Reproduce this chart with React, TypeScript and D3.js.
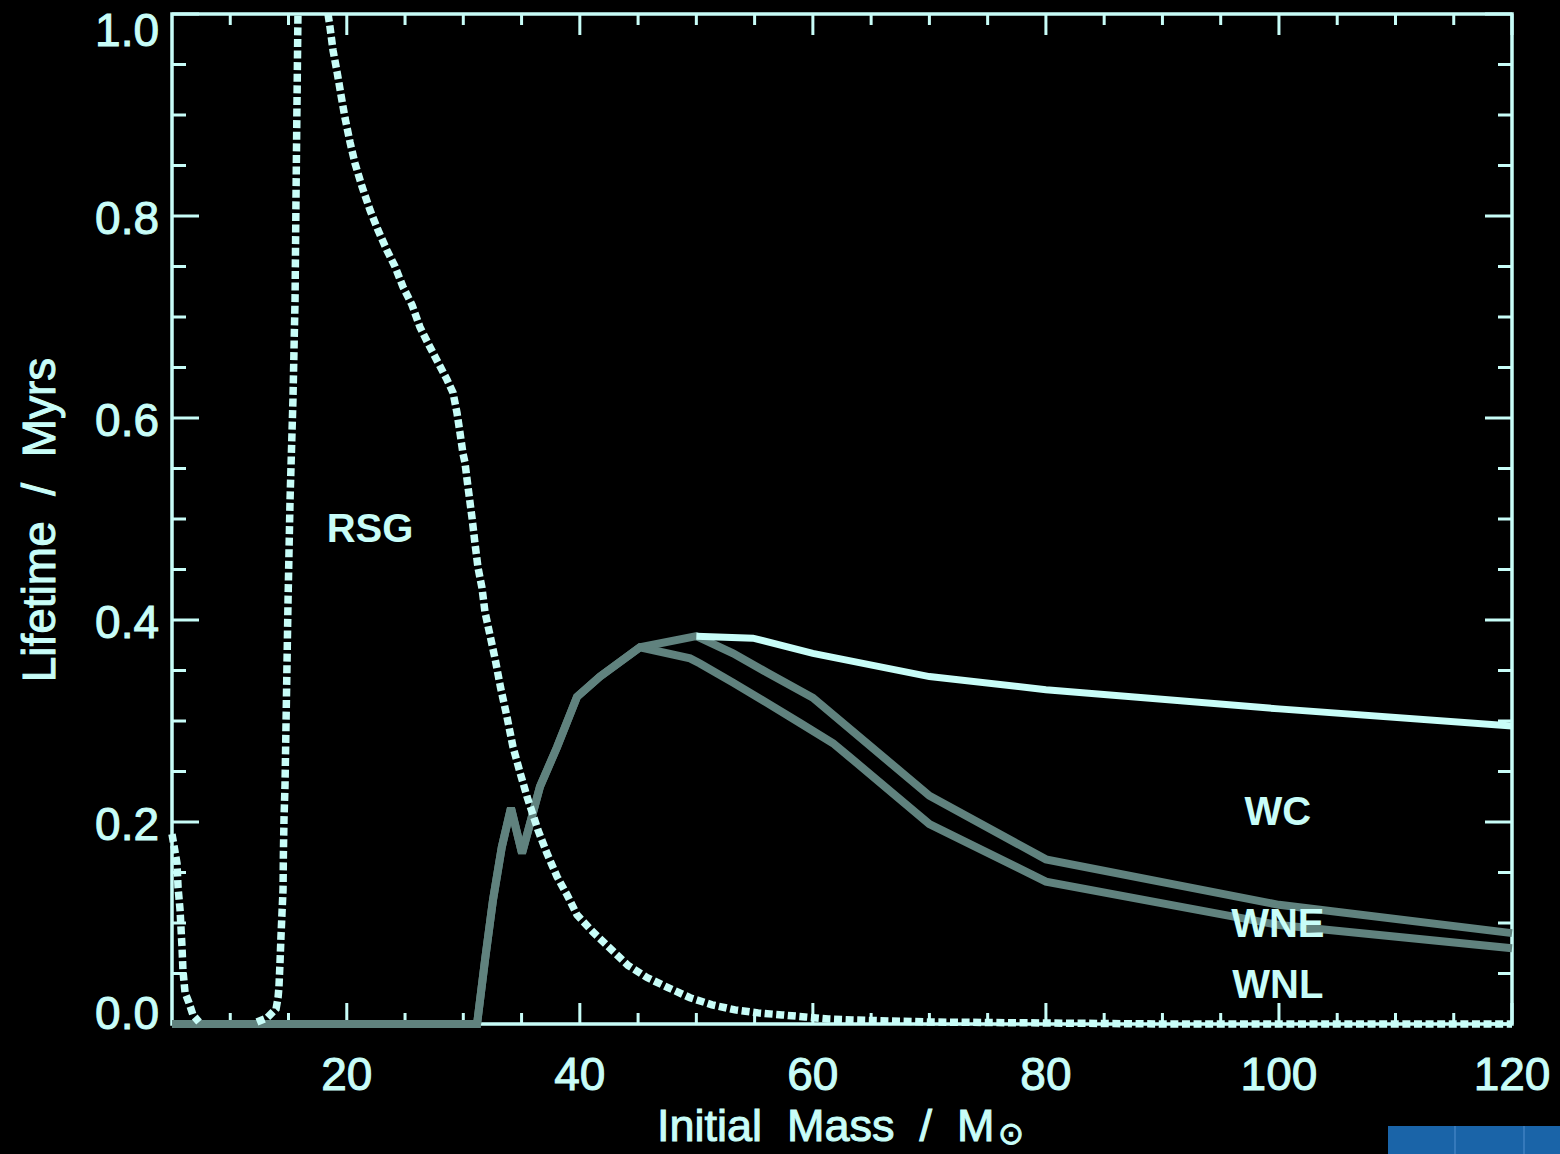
import React from 'react';
import * as d3 from 'd3';

const W = 1560;
const H = 1154;

// axis ticks
const xMajor = [20, 40, 60, 80, 100, 120];
const xMinor = [10, 15, 25, 30, 35, 45, 50, 55, 65, 70, 75, 85, 90, 95, 105, 110, 115];
const yMajor = [0, 0.2, 0.4, 0.6, 0.8, 1.0];
const yMajorLabels = ['0.0', '0.2', '0.4', '0.6', '0.8', '1.0'];
const yMinor = [0.05, 0.1, 0.15, 0.25, 0.3, 0.35, 0.45, 0.5, 0.55, 0.65, 0.7, 0.75, 0.85, 0.9, 0.95];

// RSG lifetime (dotted); null marks a gap in the drawn curve
const rsgMass = [
  5.0, 5.09, 5.43, 5.52, 5.69, 5.86, 5.94, 6.12, 6.46, 6.8, 7.32,
  null,
  12.29, 13.15, 13.93, 14.1, 14.18, 14.27, 14.35, 14.44, 14.53, 14.56, 14.61, 14.7, 14.96, 15.13, 15.38, 15.56, 15.64, 15.73, 15.81,
  null,
  18.39, 18.56, 18.82, 19.16, 19.5, 19.85, 20.28, 20.71, 21.31, 21.99, 22.68, 23.45, 24.14, 24.82, 25.6, 26.28, 26.97, 27.74, 28.6, 29.12, 29.46, 29.72, 29.97, 30.14, 30.4, 30.75, 31.0, 31.26, 31.6, 31.86, 32.29, 32.72, 33.2, 33.75, 34.27, 34.87, 35.47, 36.41, 37.18, 38.04, 38.9, 39.76, 41.13, 42.59, 44.14, 45.77, 47.57, 49.46, 51.35, 53.32, 55.3, 57.36, 59.33, 61.3, 63.36, 70, 80, 90, 120,
];
const rsgLife = [
  0.188, 0.182, 0.159, 0.135, 0.113, 0.076, 0.053, 0.031, 0.021, 0.009, 0.002,
  null,
  0.002, 0.006, 0.015, 0.026, 0.037, 0.061, 0.086, 0.11, 0.133, 0.169, 0.202, 0.237, 0.42, 0.519, 0.618, 0.717, 0.816, 0.915, 1.0,
  null,
  1.0, 0.987, 0.964, 0.943, 0.92, 0.897, 0.873, 0.852, 0.829, 0.806, 0.786, 0.766, 0.75, 0.73, 0.712, 0.69, 0.674, 0.657, 0.638, 0.625, 0.605, 0.585, 0.565, 0.556, 0.532, 0.501, 0.476, 0.452, 0.432, 0.408, 0.385, 0.362, 0.333, 0.304, 0.274, 0.249, 0.225, 0.192, 0.169, 0.146, 0.128, 0.108, 0.091, 0.075, 0.058, 0.046, 0.036, 0.026, 0.019, 0.014, 0.011, 0.009, 0.007, 0.005, 0.004, 0.002, 0.001, 0.0, 0.0,
];

// WNE (upper grey)
const wneMass = [5, 31.18, 31.86, 32.55, 33.3, 34.09, 35.04, 36.58, 38.04, 39.76, 41.73, 45.16, 50, 53.15, 56.06, 60, 70, 80, 100, 120];
const wneLife = [0, 0, 0.063, 0.123, 0.175, 0.214, 0.169, 0.235, 0.274, 0.324, 0.344, 0.373, 0.384, 0.367, 0.348, 0.323, 0.226, 0.163, 0.118, 0.09];

// WNL (lower grey)
const wnlMass = [5, 31.18, 31.86, 32.55, 33.3, 34.09, 35.04, 36.58, 38.04, 39.76, 41.73, 45.16, 49.46, 50.31, 53.15, 56.06, 58.9, 61.73, 63.19, 70, 80, 100, 120];
const wnlLife = [0, 0, 0.063, 0.123, 0.175, 0.214, 0.169, 0.235, 0.274, 0.324, 0.344, 0.373, 0.362, 0.357, 0.338, 0.318, 0.298, 0.278, 0.264, 0.198, 0.141, 0.098, 0.075];

// WC (light line)
const wcMass = [50, 54.86, 60, 70, 80, 100, 120];
const wcLife = [0.384, 0.382, 0.367, 0.344, 0.331, 0.312, 0.295];

// in-plot labels
const labelText = ['RSG', 'WC', 'WNE', 'WNL'];
const labelMass = [22.0, 99.9, 99.9, 99.9];
const labelLife = [0.477, 0.197, 0.086, 0.026];

const CYAN = '#c8fdf8';
const GREY = '#60827e';
const FONT = '"Liberation Sans", Arial, Helvetica, sans-serif';

export default function App() {
  const x = d3.scaleLinear().domain([5, 120]).range([172, 1512]);
  const y = d3.scaleLinear().domain([0, 1]).range([1024, 14]);

  type P = [number | null, number | null];
  const line = d3
    .line<P>()
    .defined((d) => d[0] != null && d[1] != null)
    .x((d) => x(d[0] as number))
    .y((d) => y(d[1] as number));

  const pts = (a: (number | null)[], b: (number | null)[]): P[] => a.map((v, i) => [v, b[i]] as P);

  const [x0, x1] = x.range();
  const [yb, yt] = y.range();
  const xTickMaj = 21;
  const xTickMin = 11;
  const yTickMaj = 27;
  const yTickMin = 14;

  const textStroke = { stroke: CYAN, strokeWidth: 1, paintOrder: 'stroke' } as React.CSSProperties;

  return (
    <svg
      width={W}
      height={H}
      style={{ position: 'absolute', left: 0, top: 0, background: '#000' }}
      fontFamily={FONT}
    >
      <rect x={0} y={0} width={W} height={H} fill="#000" />

      {/* frame */}
      <rect x={x0} y={yt} width={x1 - x0} height={yb - yt} fill="none" stroke={CYAN} strokeWidth={3.5} />

      {/* x ticks bottom & top */}
      {xMajor.map((t) => (
        <g key={'xm' + t}>
          <line x1={x(t)} x2={x(t)} y1={yb} y2={yb - xTickMaj} stroke={CYAN} strokeWidth={3} />
          <line x1={x(t)} x2={x(t)} y1={yt} y2={yt + xTickMaj} stroke={CYAN} strokeWidth={3} />
        </g>
      ))}
      {xMinor.map((t) => (
        <g key={'xn' + t}>
          <line x1={x(t)} x2={x(t)} y1={yb} y2={yb - xTickMin} stroke={CYAN} strokeWidth={3} />
          <line x1={x(t)} x2={x(t)} y1={yt} y2={yt + xTickMin} stroke={CYAN} strokeWidth={3} />
        </g>
      ))}
      {/* y ticks left & right */}
      {yMajor.map((t) => (
        <g key={'ym' + t}>
          <line x1={x0} x2={x0 + yTickMaj} y1={y(t)} y2={y(t)} stroke={CYAN} strokeWidth={3} />
          <line x1={x1} x2={x1 - yTickMaj} y1={y(t)} y2={y(t)} stroke={CYAN} strokeWidth={3} />
        </g>
      ))}
      {yMinor.map((t) => (
        <g key={'yn' + t}>
          <line x1={x0} x2={x0 + yTickMin} y1={y(t)} y2={y(t)} stroke={CYAN} strokeWidth={3} />
          <line x1={x1} x2={x1 - yTickMin} y1={y(t)} y2={y(t)} stroke={CYAN} strokeWidth={3} />
        </g>
      ))}

      {/* tick labels */}
      {xMajor.map((t) => (
        <text key={'xl' + t} x={x(t)} y={1090} textAnchor="middle" fontSize={46} fill={CYAN} style={textStroke}>
          {t}
        </text>
      ))}
      {yMajor.map((t, i) => (
        <text
          key={'yl' + t}
          x={159}
          y={Math.min(Math.max(y(t) + 18, 46), 1029)}
          textAnchor="end"
          fontSize={46}
          fill={CYAN}
          style={textStroke}
        >
          {yMajorLabels[i]}
        </text>
      ))}

      {/* axis titles */}
      <text x={657} y={1141} fontSize={45} fill={CYAN} style={{ ...textStroke, whiteSpace: 'pre' }}>
        {'Initial  Mass  /  M'}
        <tspan fontSize={31} dx={3} dy={3}>⊙</tspan>
      </text>
      <text
        transform="translate(55,520) rotate(-90)"
        textAnchor="middle"
        fontSize={46}
        fill={CYAN}
        style={{ ...textStroke, whiteSpace: 'pre' }}
      >
        {'Lifetime  /  Myrs'}
      </text>

      {/* series */}
      <path d={line(pts(wnlMass, wnlLife)) || ''} fill="none" stroke={GREY} strokeWidth={8} />
      <path d={line(pts(wneMass, wneLife)) || ''} fill="none" stroke={GREY} strokeWidth={8} />
      <path d={line(pts(wcMass, wcLife)) || ''} fill="none" stroke={CYAN} strokeWidth={7} />
      <path
        d={line(pts(rsgMass, rsgLife)) || ''}
        fill="none"
        stroke={CYAN}
        strokeWidth={7.5}
        strokeDasharray="8 3.6"
        strokeLinecap="butt"
      />

      {/* labels */}
      {labelText.map((s, i) => (
        <text
          key={s}
          x={x(labelMass[i])}
          y={y(labelLife[i])}
          textAnchor="middle"
          fontSize={40}
          fontWeight="bold"
          fill={CYAN}
        >
          {s}
        </text>
      ))}

      {/* blue strip, bottom right */}
      <rect x={1388} y={1126} width={172} height={28} fill="#1a64a8" />
      <line x1={1455} x2={1455} y1={1126} y2={1154} stroke="#3f80c2" strokeWidth={1.5} />
      <line x1={1524} x2={1524} y1={1126} y2={1154} stroke="#3f80c2" strokeWidth={1.5} />
    </svg>
  );
}
